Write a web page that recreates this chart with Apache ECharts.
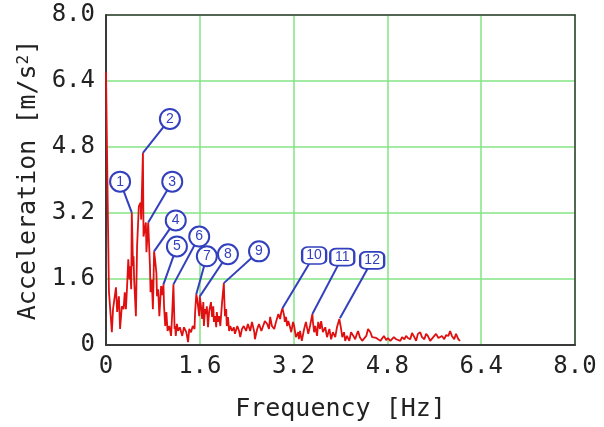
<!DOCTYPE html>
<html>
<head>
<meta charset="utf-8">
<script src="https://cdn.jsdelivr.net/npm/echarts@6/dist/echarts.min.js"></script>
<style>
  html, body { margin: 0; padding: 0; background: #fff; }
  #main { width: 604px; height: 427px; }
</style>
</head>
<body>
<div id="main"></div>
<script>
// spectrum: frequency [Hz] and acceleration [m/s2]
const freq = [
  0.00, 0.02, 0.05, 0.10, 0.12, 0.17, 0.19, 0.22, 0.24, 0.27, 0.30, 0.32, 0.34, 0.36, 0.38, 0.40,
  0.41, 0.43, 0.44, 0.45, 0.46, 0.47, 0.48, 0.51, 0.53, 0.56, 0.59, 0.60, 0.63, 0.64, 0.68, 0.69,
  0.72, 0.75, 0.76, 0.78, 0.80, 0.81, 0.82, 0.84, 0.86, 0.87, 0.89, 0.91, 0.94, 0.96, 0.98, 0.99,
  1.01, 1.03, 1.05, 1.08, 1.11, 1.13, 1.15, 1.17, 1.18, 1.19, 1.21, 1.23, 1.26, 1.30, 1.33, 1.37,
  1.40, 1.42, 1.45, 1.48, 1.51, 1.52, 1.54, 1.55, 1.57, 1.59, 1.60, 1.62, 1.64, 1.66, 1.67, 1.69,
  1.71, 1.72, 1.74, 1.76, 1.79, 1.81, 1.83, 1.84, 1.86, 1.88, 1.89, 1.91, 1.93, 1.95, 1.98, 2.01,
  2.02, 2.03, 2.05, 2.06, 2.08, 2.10, 2.12, 2.15, 2.18, 2.20, 2.24, 2.27, 2.29, 2.32, 2.35, 2.39,
  2.42, 2.46, 2.49, 2.53, 2.54, 2.58, 2.61, 2.65, 2.68, 2.71, 2.75, 2.78, 2.80, 2.83, 2.87, 2.90,
  2.94, 2.97, 2.99, 3.01, 3.04, 3.05, 3.07, 3.09, 3.11, 3.14, 3.16, 3.19, 3.21, 3.24, 3.28, 3.29,
  3.31, 3.34, 3.38, 3.41, 3.45, 3.48, 3.52, 3.53, 3.55, 3.57, 3.60, 3.62, 3.65, 3.67, 3.70, 3.74,
  3.77, 3.81, 3.84, 3.87, 3.91, 3.94, 3.98, 3.99, 4.01, 4.03, 4.06, 4.08, 4.11, 4.15, 4.18, 4.22,
  4.25, 4.28, 4.30, 4.33, 4.37, 4.40, 4.44, 4.47, 4.51, 4.54, 4.57, 4.61, 4.64, 4.68, 4.71, 4.74,
  4.78, 4.81, 4.85, 4.88, 4.91, 4.95, 4.98, 5.02, 5.05, 5.09, 5.12, 5.15, 5.19, 5.22, 5.26, 5.29,
  5.32, 5.36, 5.39, 5.43, 5.46, 5.49, 5.53, 5.56, 5.60, 5.63, 5.67, 5.70, 5.73, 5.77, 5.80, 5.84,
  5.87, 5.90, 5.94, 5.97, 6.01, 6.04
];
const accel = [
  6.62, 4.40, 1.30, 0.31, 0.87, 1.40, 0.80, 1.18, 0.39, 0.94, 0.87, 1.28, 0.87, 1.43, 2.08, 1.59,
  1.91, 1.35, 3.21, 2.63, 1.91, 2.15, 1.59, 0.70, 2.39, 3.36, 3.45, 3.04, 4.66, 2.63, 2.97, 2.25,
  2.97, 1.91, 1.28, 1.59, 0.87, 1.47, 2.27, 2.03, 1.74, 1.18, 1.35, 0.70, 1.43, 1.21, 1.47, 0.94,
  0.46, 0.80, 0.34, 0.46, 0.22, 0.80, 1.47, 0.39, 0.46, 0.22, 0.51, 0.34, 0.43, 0.22, 0.43, 0.31,
  0.07, 0.39, 0.31, 0.46, 0.39, 0.80, 1.23, 1.16, 0.94, 0.70, 1.18, 0.94, 0.63, 1.04, 0.46, 0.87,
  0.75, 0.94, 0.43, 0.82, 1.04, 0.68, 0.94, 0.56, 0.70, 0.43, 0.80, 0.56, 0.70, 0.46, 1.04, 1.50,
  1.04, 0.70, 0.87, 0.46, 0.68, 0.34, 0.46, 0.34, 0.43, 0.27, 0.46, 0.34, 0.19, 0.39, 0.46, 0.34,
  0.51, 0.34, 0.56, 0.31, 0.14, 0.39, 0.51, 0.34, 0.46, 0.58, 0.51, 0.39, 0.68, 0.46, 0.39, 0.56,
  0.75, 0.63, 0.80, 0.89, 0.70, 0.56, 0.68, 0.46, 0.58, 0.43, 0.31, 0.56, 0.46, 0.19, 0.31, 0.14,
  0.34, 0.10, 0.39, 0.56, 0.27, 0.46, 0.75, 0.56, 0.31, 0.46, 0.22, 0.56, 0.39, 0.58, 0.31, 0.43,
  0.19, 0.39, 0.14, 0.31, 0.19, 0.43, 0.63, 0.65, 0.39, 0.19, 0.31, 0.10, 0.22, 0.10, 0.31, 0.22,
  0.14, 0.27, 0.34, 0.19, 0.10, 0.07, 0.22, 0.39, 0.31, 0.19, 0.22, 0.17, 0.19, 0.10, 0.14, 0.22,
  0.12, 0.17, 0.10, 0.14, 0.19, 0.14, 0.14, 0.10, 0.19, 0.14, 0.22, 0.17, 0.14, 0.29, 0.19, 0.10,
  0.27, 0.31, 0.19, 0.14, 0.27, 0.22, 0.10, 0.14, 0.22, 0.27, 0.17, 0.14, 0.22, 0.14, 0.24, 0.22,
  0.34, 0.22, 0.14, 0.27, 0.14, 0.10
];

// numbered peak callouts: peak point and where the tag sits (data units)
const tagText = ['1', '2', '3', '4', '5', '6', '7', '8', '9', '10', '11', '12'];
const peakFreq = [0.44, 0.63, 0.72, 0.82, 0.98, 1.15, 1.54, 1.60, 2.01, 3.01, 3.52, 3.99];
const peakAcc = [3.21, 4.66, 2.97, 2.27, 1.47, 1.47, 1.23, 1.18, 1.50, 0.89, 0.75, 0.65];
const tagFreq = [0.24, 1.09, 1.13, 1.19, 1.21, 1.59, 1.72, 2.08, 2.61, 3.55, 4.03, 4.54];
const tagAcc = [3.96, 5.48, 3.96, 3.02, 2.39, 2.63, 2.15, 2.20, 2.27, 2.17, 2.13, 2.05];

const ticks = [0, 1.6, 3.2, 4.8, 6.4, 8.0];

const chart = echarts.init(document.getElementById('main'), null, { renderer: 'canvas' });

const BLUE = '#3340bd';
const FONT = 'DejaVu Sans Mono';
const fmt = v => (Math.abs(v) < 1e-9 ? '0' : v.toFixed(1));

const lineData = freq.map((f, i) => [f, accel[i]]);
const leaders = tagText.map((t, i) => [
  { coord: [tagFreq[i], tagAcc[i]] },
  { coord: [peakFreq[i], peakAcc[i]] }
]);
const tags = tagText.map((t, i) => ({
  value: [tagFreq[i], tagAcc[i]],
  name: t,
  symbol: t.length > 1 ? 'roundRect' : 'circle',
  symbolSize: t.length > 1 ? [24, 17] : 20
}));

const valueAxis = (extra) => Object.assign({
  type: 'value',
  min: ticks[0],
  max: ticks[ticks.length - 1],
  interval: 1.6,
  axisLine: { show: true, onZero: false, lineStyle: { color: '#3a3a3a', width: 2 } },
  axisTick: { show: false },
  splitLine: { show: true, lineStyle: { color: '#85e385', width: 1.5 } },
  axisLabel: {
    color: '#222', fontFamily: FONT, fontSize: 24,
    formatter: fmt
  },
  nameLocation: 'middle',
  nameTextStyle: { color: '#222', fontFamily: FONT, fontSize: 25 }
}, extra);

const frameAxis = (pos) => ({
  type: 'value', min: 0, max: 8, position: pos,
  axisLine: { show: true, onZero: false, lineStyle: { color: '#3a3a3a', width: 1.5 } },
  axisTick: { show: false }, axisLabel: { show: false }, splitLine: { show: false }
});

const option = {
  animation: false,
  backgroundColor: '#fff',
  grid: { left: 106, right: 29, top: 15, bottom: 81 },
  xAxis: [
    valueAxis({
      name: 'Frequency [Hz]', nameGap: 52,
      axisLabel: { color: '#222', fontFamily: FONT, fontSize: 24, margin: 10, formatter: fmt }
    }),
    frameAxis('top')
  ],
  yAxis: [
    valueAxis({
      name: 'Acceleration [m/s{sup|2}]', nameGap: 64,
      axisLabel: { color: '#222', fontFamily: FONT, fontSize: 24, margin: 11, formatter: fmt },
      nameTextStyle: {
        color: '#222', fontFamily: FONT, fontSize: 25,
        rich: { sup: { color: '#222', fontFamily: FONT, fontSize: 16, verticalAlign: 'top' } }
      }
    }),
    frameAxis('right')
  ],
  series: [
    {
      type: 'line',
      data: lineData,
      showSymbol: false,
      lineStyle: { color: '#e01010', width: 1.8 },
      z: 3
    },
    {
      type: 'line',
      data: [],
      markLine: {
        silent: true,
        symbol: 'none',
        label: { show: false },
        lineStyle: { color: BLUE, width: 2, type: 'solid' },
        data: leaders
      },
      z: 4
    },
    {
      type: 'scatter',
      data: tags,
      itemStyle: { color: '#fff', borderColor: BLUE, borderWidth: 2, opacity: 1 },
      label: {
        show: true, position: 'inside',
        formatter: p => p.name,
        color: BLUE, fontFamily: 'Liberation Sans', fontSize: 14
      },
      z: 5
    }
  ]
};

chart.setOption(option);
</script>
</body>
</html>
